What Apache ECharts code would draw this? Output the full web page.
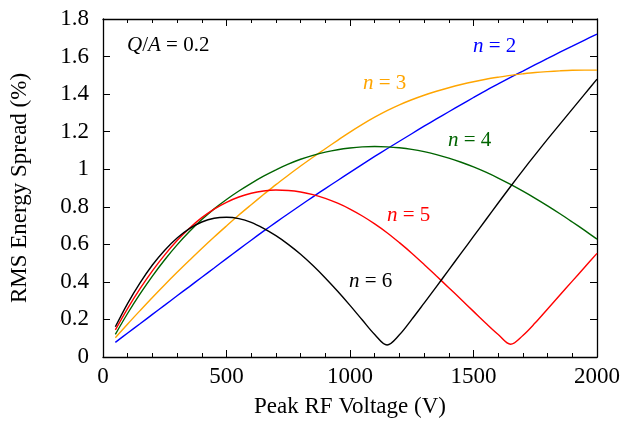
<!DOCTYPE html>
<html>
<head>
<meta charset="utf-8">
<script src="https://cdn.jsdelivr.net/npm/echarts@6/dist/echarts.min.js"></script>
<style>
  html, body { margin: 0; padding: 0; background: #fff; }
  #chart { width: 634px; height: 425px; }
</style>
</head>
<body>
<div id="chart"></div>
<script>
// peak RF voltage (V)
const volts = [50, 100, 150, 200, 250, 300, 350, 400, 450, 500,
  550, 600, 650, 700, 750, 800, 850, 900, 950, 1000,
  1050, 1100, 1150, 1200, 1250, 1300, 1350, 1400, 1450, 1500,
  1550, 1600, 1650, 1700, 1750, 1800, 1850, 1900, 1950, 2000]

// RMS energy spread (%) per harmonic n
const n2 = [0.078, 0.128, 0.177, 0.227, 0.276, 0.326, 0.375, 0.425, 0.474, 0.524,
  0.573, 0.622, 0.670, 0.717, 0.763, 0.808, 0.853, 0.897, 0.940, 0.983,
  1.026, 1.068, 1.109, 1.149, 1.189, 1.229, 1.268, 1.306, 1.344, 1.382,
  1.419, 1.454, 1.489, 1.523, 1.557, 1.590, 1.623, 1.655, 1.688, 1.720]
const n3 = [0.103, 0.176, 0.247, 0.317, 0.385, 0.451, 0.515, 0.578, 0.639, 0.698,
  0.756, 0.811, 0.865, 0.918, 0.968, 1.017, 1.064, 1.109, 1.154, 1.198,
  1.239, 1.277, 1.312, 1.343, 1.370, 1.394, 1.415, 1.434, 1.451, 1.466,
  1.479, 1.490, 1.500, 1.508, 1.515, 1.520, 1.524, 1.527, 1.528, 1.528]
const n4 = [0.121, 0.233, 0.336, 0.431, 0.518, 0.597, 0.668, 0.732, 0.789, 0.839,
  0.884, 0.925, 0.963, 0.997, 1.027, 1.053, 1.074, 1.091, 1.104, 1.113,
  1.119, 1.121, 1.119, 1.114, 1.106, 1.094, 1.078, 1.059, 1.037, 1.012,
  0.984, 0.953, 0.919, 0.883, 0.845, 0.805, 0.763, 0.719, 0.674, 0.628]
const n5 = [0.144, 0.259, 0.364, 0.459, 0.544, 0.620, 0.686, 0.742, 0.788, 0.824,
  0.852, 0.872, 0.884, 0.889, 0.887, 0.879, 0.865, 0.845, 0.819, 0.788,
  0.751, 0.709, 0.662, 0.609, 0.553, 0.493, 0.431, 0.369, 0.306, 0.243,
  0.180, 0.120, 0.068, 0.115, 0.182, 0.256, 0.330, 0.404, 0.478, 0.552]
const n6 = [0.161, 0.286, 0.395, 0.490, 0.569, 0.634, 0.684, 0.719, 0.739, 0.744,
  0.737, 0.717, 0.685, 0.646, 0.600, 0.547, 0.487, 0.421, 0.350, 0.275,
  0.197, 0.120, 0.064, 0.118, 0.200, 0.287, 0.375, 0.464, 0.553, 0.642,
  0.731, 0.820, 0.908, 0.994, 1.078, 1.160, 1.240, 1.320, 1.400, 1.480]

const curves = [
  { name: 'n = 2', values: n2, color: '#0000ff' },
  { name: 'n = 3', values: n3, color: '#ffa500' },
  { name: 'n = 4', values: n4, color: '#006400' },
  { name: 'n = 5', values: n5, color: '#ff0000' },
  { name: 'n = 6', values: n6, color: '#000000' }
]

const FONT = '"Liberation Serif", "DejaVu Serif", serif'
const axisLine = { show: true, onZero: false, lineStyle: { color: '#000', width: 1.3 } }
const majorTick = { show: true, inside: true, length: 7, lineStyle: { color: '#000', width: 1 } }
const minorTick = { show: true, splitNumber: 5, length: 4, lineStyle: { color: '#000', width: 1 } }

function mathLabel (left, top, text, color) {
  return {
    type: 'text',
    left: left,
    top: top,
    z: 10,
    style: {
      text: text,
      fill: color,
      font: '21px ' + FONT,
      rich: {
        i: { fontStyle: 'italic', fontSize: 21, fontFamily: FONT, fill: color }
      }
    }
  }
}

const chart = echarts.init(document.getElementById('chart'))
chart.setOption({
  animation: false,
  grid: { left: 103, right: 37, top: 19, bottom: 68 },
  xAxis: [
    {
      type: 'value',
      min: 0,
      max: 2000,
      interval: 500,
      name: 'Peak RF Voltage (V)',
      nameLocation: 'middle',
      nameGap: 38,
      nameTextStyle: { fontFamily: FONT, fontSize: 23, color: '#000' },
      axisLine: axisLine,
      axisTick: majorTick,
      minorTick: minorTick,
      axisLabel: { fontFamily: FONT, fontSize: 23, color: '#000', margin: 8, formatter: v => String(v) },
      splitLine: { show: false },
      minorSplitLine: { show: false }
    },
    {
      type: 'value',
      position: 'top',
      min: 0,
      max: 2000,
      interval: 500,
      axisLine: axisLine,
      axisTick: majorTick,
      minorTick: minorTick,
      axisLabel: { show: false },
      splitLine: { show: false }
    }
  ],
  yAxis: [
    {
      type: 'value',
      min: 0,
      max: 1.8,
      interval: 0.2,
      name: 'RMS Energy Spread (%)',
      nameLocation: 'middle',
      nameGap: 72,
      nameTextStyle: { fontFamily: FONT, fontSize: 23, color: '#000' },
      axisLine: axisLine,
      axisTick: majorTick,
      axisLabel: {
        fontFamily: FONT,
        fontSize: 23,
        color: '#000',
        margin: 14,
        formatter: v => String(Math.round(v * 10) / 10)
      },
      splitLine: { show: false }
    },
    {
      type: 'value',
      position: 'right',
      min: 0,
      max: 1.8,
      interval: 0.2,
      axisLine: axisLine,
      axisTick: majorTick,
      axisLabel: { show: false },
      splitLine: { show: false }
    }
  ],
  series: curves.map(c => ({
    name: c.name,
    type: 'line',
    xAxisIndex: 0,
    yAxisIndex: 0,
    data: volts.map((v, i) => [v, c.values[i]]),
    showSymbol: false,
    smooth: 0.35,
    lineStyle: { color: c.color, width: 1.4 },
    itemStyle: { color: c.color }
  })),
  graphic: [
    mathLabel(127, 35, '{i|Q}/{i|A} = 0.2', '#000'),
    mathLabel(473, 36, '{i|n} = 2', '#0000ff'),
    mathLabel(363, 73, '{i|n} = 3', '#ffa500'),
    mathLabel(448, 130, '{i|n} = 4', '#006400'),
    mathLabel(387, 205, '{i|n} = 5', '#ff0000'),
    mathLabel(349, 271, '{i|n} = 6', '#000000')
  ]
})
</script>
</body>
</html>
